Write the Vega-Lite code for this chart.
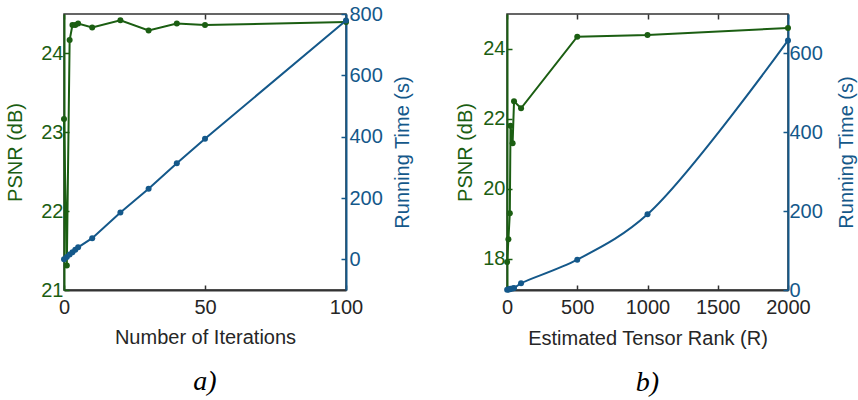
{
  "$schema": "https://vega.github.io/schema/vega-lite/v6.json",
  "padding": {"left": 5, "top": 3, "right": 0, "bottom": 0},
  "background": "white",
  "config": {
    "font": "Liberation Sans",
    "view": {"stroke": "#333333", "strokeWidth": 1.5},
    "axis": {"grid": false, "labelFontSize": 20, "titleFontSize": 20, "titleFontWeight": "normal", "labelFont": "Liberation Sans", "titleFont": "Liberation Sans", "tickSize": -5, "domainWidth": 2, "tickWidth": 1.5, "labelFlush": false, "format": "d"}
  },
  "datasets": {
    "iter": [
      {"n": 0, "psnr": 23.17, "time": 0},
      {"n": 1, "psnr": 21.31, "time": 8},
      {"n": 2, "psnr": 24.17, "time": 16},
      {"n": 3, "psnr": 24.36, "time": 23},
      {"n": 4, "psnr": 24.36, "time": 31},
      {"n": 5, "psnr": 24.38, "time": 39},
      {"n": 10, "psnr": 24.33, "time": 69},
      {"n": 20, "psnr": 24.42, "time": 153},
      {"n": 30, "psnr": 24.29, "time": 230},
      {"n": 40, "psnr": 24.38, "time": 313},
      {"n": 50, "psnr": 24.36, "time": 393},
      {"n": 100, "psnr": 24.4, "time": 779}
    ],
    "rank": [
      {"r": 1, "psnr": 17.9, "time": 0.5},
      {"r": 10, "psnr": 18.55, "time": 1},
      {"r": 20, "psnr": 19.3, "time": 2},
      {"r": 25, "psnr": 21.8, "time": 3},
      {"r": 40, "psnr": 21.3, "time": 4},
      {"r": 50, "psnr": 22.5, "time": 5},
      {"r": 100, "psnr": 22.3, "time": 17},
      {"r": 500, "psnr": 24.35, "time": 77},
      {"r": 1000, "psnr": 24.4, "time": 192},
      {"r": 2000, "psnr": 24.6, "time": 633}
    ]
  },
  "hconcat": [
    {
      "width": 282,
      "height": 276,
      "data": {"name": "iter"},
      "title": {"text": "a)", "orient": "bottom", "anchor": "middle", "frame": "group", "font": "Liberation Serif", "fontStyle": "italic", "fontWeight": "normal", "fontSize": 28, "color": "black", "offset": 21},
      "layer": [
        {
          "mark": {"type": "line", "color": "#1b5e12", "strokeWidth": 2, "point": {"filled": true, "size": 36, "color": "#1b5e12"}},
          "encoding": {
            "x": {"field": "n", "type": "quantitative", "scale": {"domain": [0, 100], "nice": false}, "axis": {"values": [0, 50, 100], "title": "Number of Iterations", "domainColor": "#333333", "tickColor": "#333333", "labelColor": "#262626", "titleColor": "#262626", "labelPadding": 12, "titlePadding": 10}},
            "y": {"field": "psnr", "type": "quantitative", "scale": {"domain": [21, 24.5], "nice": false, "zero": false}, "axis": {"orient": "left", "values": [21, 22, 23, 24], "title": "PSNR (dB)", "domainColor": "#1b5e12", "tickColor": "#1b5e12", "labelColor": "#1b5e12", "titleColor": "#1b5e12", "labelPadding": 6, "titlePadding": 15}}
          }
        },
        {
          "mark": {"type": "line", "color": "#14588a", "strokeWidth": 2, "point": {"filled": true, "size": 36, "color": "#14588a"}},
          "encoding": {
            "x": {"field": "n", "type": "quantitative", "axis": {"orient": "top", "values": [0, 50, 100], "labels": false, "domain": false, "title": null, "tickColor": "#333333"}},
            "y": {"field": "time", "type": "quantitative", "scale": {"domain": [-100, 800], "nice": false, "zero": false}, "axis": {"orient": "right", "values": [0, 200, 400, 600, 800], "title": "Running Time (s)", "titleAngle": 270, "titleBaseline": "top", "domainColor": "#14588a", "tickColor": "#14588a", "labelColor": "#14588a", "titleColor": "#14588a", "labelPadding": 8, "titlePadding": 10}}
          }
        }
      ],
      "resolve": {"scale": {"y": "independent"}, "axis": {"x": "independent"}}
    },
    {
      "width": 281,
      "height": 276,
      "data": {"name": "rank"},
      "title": {"text": "b)", "orient": "bottom", "anchor": "middle", "frame": "group", "font": "Liberation Serif", "fontStyle": "italic", "fontWeight": "normal", "fontSize": 28, "color": "black", "offset": 21},
      "layer": [
        {
          "mark": {"type": "line", "color": "#1b5e12", "strokeWidth": 2, "point": {"filled": true, "size": 36, "color": "#1b5e12"}},
          "encoding": {
            "x": {"field": "r", "type": "quantitative", "scale": {"domain": [0, 2000], "nice": false}, "axis": {"values": [0, 500, 1000, 1500, 2000], "title": "Estimated Tensor Rank (R)", "domainColor": "#333333", "tickColor": "#333333", "labelColor": "#262626", "titleColor": "#262626", "labelPadding": 12, "titlePadding": 11}},
            "y": {"field": "psnr", "type": "quantitative", "scale": {"domain": [17.1, 25], "nice": false, "zero": false}, "axis": {"orient": "left", "values": [18, 20, 22, 24], "title": "PSNR (dB)", "domainColor": "#1b5e12", "tickColor": "#1b5e12", "labelColor": "#1b5e12", "titleColor": "#1b5e12", "labelPadding": 7, "titlePadding": 7}}
          }
        },
        {
          "mark": {"type": "line", "color": "#14588a", "strokeWidth": 2, "interpolate": "catmull-rom", "point": {"filled": true, "size": 36, "color": "#14588a"}},
          "encoding": {
            "x": {"field": "r", "type": "quantitative", "axis": {"orient": "top", "values": [0, 500, 1000, 1500, 2000], "labels": false, "domain": false, "title": null, "tickColor": "#333333"}},
            "y": {"field": "time", "type": "quantitative", "scale": {"domain": [0, 700], "nice": false, "zero": false}, "axis": {"orient": "right", "values": [0, 200, 400, 600], "title": "Running Time (s)", "titleAngle": 270, "titleBaseline": "top", "domainColor": "#14588a", "tickColor": "#14588a", "labelColor": "#14588a", "titleColor": "#14588a", "labelPadding": 6, "titlePadding": 14}}
          }
        }
      ],
      "resolve": {"scale": {"y": "independent"}, "axis": {"x": "independent"}}
    }
  ],
  "spacing": 161,
  "bounds": "flush"
}
